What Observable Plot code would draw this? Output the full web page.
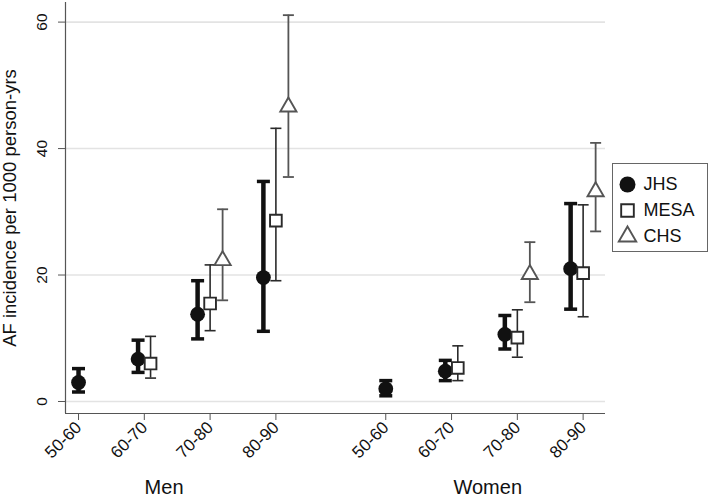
<!DOCTYPE html>
<html>
<head>
<meta charset="utf-8">
<script src="https://cdn.jsdelivr.net/npm/d3@7"></script>
<script src="https://cdn.jsdelivr.net/npm/@observablehq/plot@0.6"></script>
<style>
  html, body { margin: 0; padding: 0; background: #fff; }
  #wrap { position: relative; width: 709px; height: 499px; font-family: "Liberation Sans", Arial, sans-serif; }
  #legend { position: absolute; left: 612px; top: 163px; width: 94px; height: 87px; border: 1px solid #666; background: #fff; }
</style>
</head>
<body>
<div id="wrap"><div id="legend"></div></div>
<script>
// ---- data ----
const sexes = ["Men", "Women"];
const ages = ["50-60", "60-70", "70-80", "80-90"];
const series = ["JHS", "MESA", "CHS"];
const yTicks = [0, 20, 40, 60];
const yLabel = "AF incidence per 1000 person-yrs";

// order: Men 50-60 .. 80-90, then Women 50-60 .. 80-90
const jhsRate  = [3.0, 6.7, 13.8, 19.6, 2.0, 4.8, 10.6, 21.0];
const jhsLow   = [1.5, 4.6, 9.9, 11.1, 0.9, 3.3, 8.3, 14.6];
const jhsHigh  = [5.2, 9.7, 19.1, 34.8, 3.3, 6.5, 13.6, 31.3];
const mesaRate = [null, 6.0, 15.5, 28.6, null, 5.3, 10.1, 20.3];
const mesaLow  = [null, 3.7, 11.2, 19.1, null, 3.3, 7.0, 13.4];
const mesaHigh = [null, 10.3, 21.6, 43.2, null, 8.8, 14.5, 31.1];
const chsRate  = [null, null, 22.3, 46.6, null, null, 20.1, 33.2];
const chsLow   = [null, null, 16.0, 35.5, null, null, 15.7, 26.9];
const chsHigh  = [null, null, 30.4, 61.1, null, null, 25.2, 40.9];

// ---- layout parameters ----
const groupGap = 4.67;      // distance between the Men and Women blocks (in age steps)
const dodgeStep = 0.19;     // spacing between studies within an age group
const groupLabelPos = [1.3, groupGap + 1.55];

const rates = [jhsRate, mesaRate, chsRate];
const lows = [jhsLow, mesaLow, chsLow];
const highs = [jhsHigh, mesaHigh, chsHigh];

const rows = [];
sexes.forEach((sex, si) => {
  ages.forEach((age, ai) => {
    const idx = si * ages.length + ai;
    const present = series.map((s, k) => k).filter(k => rates[k][idx] != null);
    present.forEach((k, rank) => {
      rows.push({
        sex, age, study: series[k],
        pos: si * groupGap + ai + (rank - (present.length - 1) / 2) * dodgeStep,
        rate: rates[k][idx], lo: lows[k][idx], hi: highs[k][idx]
      });
    });
  });
});
const xTicks = [];
sexes.forEach((sex, si) => ages.forEach((age, ai) => xTicks.push({pos: si * groupGap + ai, label: age})));
const groupLabels = sexes.map((s, i) => ({pos: groupLabelPos[i], label: s}));

const cap = {draw(ctx, size) { const w = Math.sqrt(size / Math.PI); ctx.moveTo(-w, 0); ctx.lineTo(w, 0); }};

const style = {
  JHS:  {color: "#111", bar: 4.5, capR: 6.5, capW: 3.5, symbol: "circle", fill: "#111", r: 7.4, sw: 0},
  MESA: {color: "#2a2a2a", bar: 1.6, capR: 5.5, capW: 1.6, symbol: "square", fill: "#fff", r: 6.6, sw: 1.9},
  CHS:  {color: "#555", bar: 1.8, capR: 5.5, capW: 1.8, symbol: "triangle", fill: "#fff", r: 6.0, sw: 1.9}
};

const marks = [
  Plot.ruleY(yTicks, {stroke: "#e3e3e3", strokeWidth: 1.6}),
  Plot.ruleX([-0.198], {stroke: "#555", strokeWidth: 1.2}),
  Plot.ruleY([-1.9], {stroke: "#555", strokeWidth: 1.2}),
  Plot.axisY({ticks: yTicks, tickSize: 7, tickFormat: () => "", label: null, stroke: "#555"}),
  Plot.text(yTicks, {y: d => d, text: d => String(d), frameAnchor: "left", dx: -23, rotate: -90, textAnchor: "middle", fontSize: 15.5, fill: "#111"}),
  Plot.axisX({ticks: xTicks.map(d => d.pos), tickSize: 7, tickFormat: () => "", label: null, stroke: "#555"}),
  Plot.text(xTicks, {x: "pos", text: "label", frameAnchor: "bottom", dy: 15, dx: 4, rotate: -45, textAnchor: "end", fontSize: 17, fill: "#111"}),
  Plot.text(groupLabels, {x: "pos", text: "label", frameAnchor: "bottom", dy: 80, textAnchor: "middle", fontSize: 20, fill: "#111"}),
  Plot.text([yLabel], {frameAnchor: "left", dx: -55, rotate: -90, textAnchor: "middle", fontSize: 18.5, fill: "#111"})
];

for (const s of series) {
  const st = style[s];
  const d = rows.filter(r => r.study === s);
  marks.push(
    Plot.ruleX(d, {x: "pos", y1: "lo", y2: "hi", stroke: st.color, strokeWidth: st.bar}),
    Plot.dot(d, {x: "pos", y: "lo", symbol: cap, r: st.capR, fill: "none", stroke: st.color, strokeWidth: st.capW}),
    Plot.dot(d, {x: "pos", y: "hi", symbol: cap, r: st.capR, fill: "none", stroke: st.color, strokeWidth: st.capW})
  );
}
for (const s of series) {
  const st = style[s];
  const d = rows.filter(r => r.study === s);
  marks.push(Plot.dot(d, {x: "pos", y: "rate", symbol: st.symbol, r: st.r, fill: st.fill,
    stroke: st.sw ? st.color : "none", strokeWidth: st.sw}));
}

const chart = Plot.plot({
  width: 709, height: 499,
  marginLeft: 65, marginRight: 104, marginTop: 2, marginBottom: 86,
  style: {fontFamily: "'Liberation Sans', Arial, sans-serif", background: "transparent"},
  x: {type: "linear", domain: [-0.198, 8.01], axis: null},
  y: {domain: [-1.9, 63.1], axis: null},
  marks
});
document.getElementById("wrap").prepend(chart);

// legend
const legend = Plot.plot({
  width: 94, height: 87, margin: 0,
  style: {fontFamily: "'Liberation Sans', Arial, sans-serif", background: "transparent", overflow: "visible"},
  x: {axis: null},
  y: {type: "point", domain: series, range: [20, 72], padding: 0, axis: null},
  marks: [
    ...series.map(s => Plot.dot([s], {y: d => d, frameAnchor: "left", dx: 14, symbol: style[s].symbol,
      r: style[s].r * 1.08, fill: style[s].fill, stroke: style[s].sw ? style[s].color : "none", strokeWidth: style[s].sw})),
    Plot.text(series, {y: d => d, text: d => d, frameAnchor: "left", dx: 30, textAnchor: "start", fontSize: 18, fill: "#111"})
  ]
});
document.getElementById("legend").append(legend);
</script>
</body>
</html>
